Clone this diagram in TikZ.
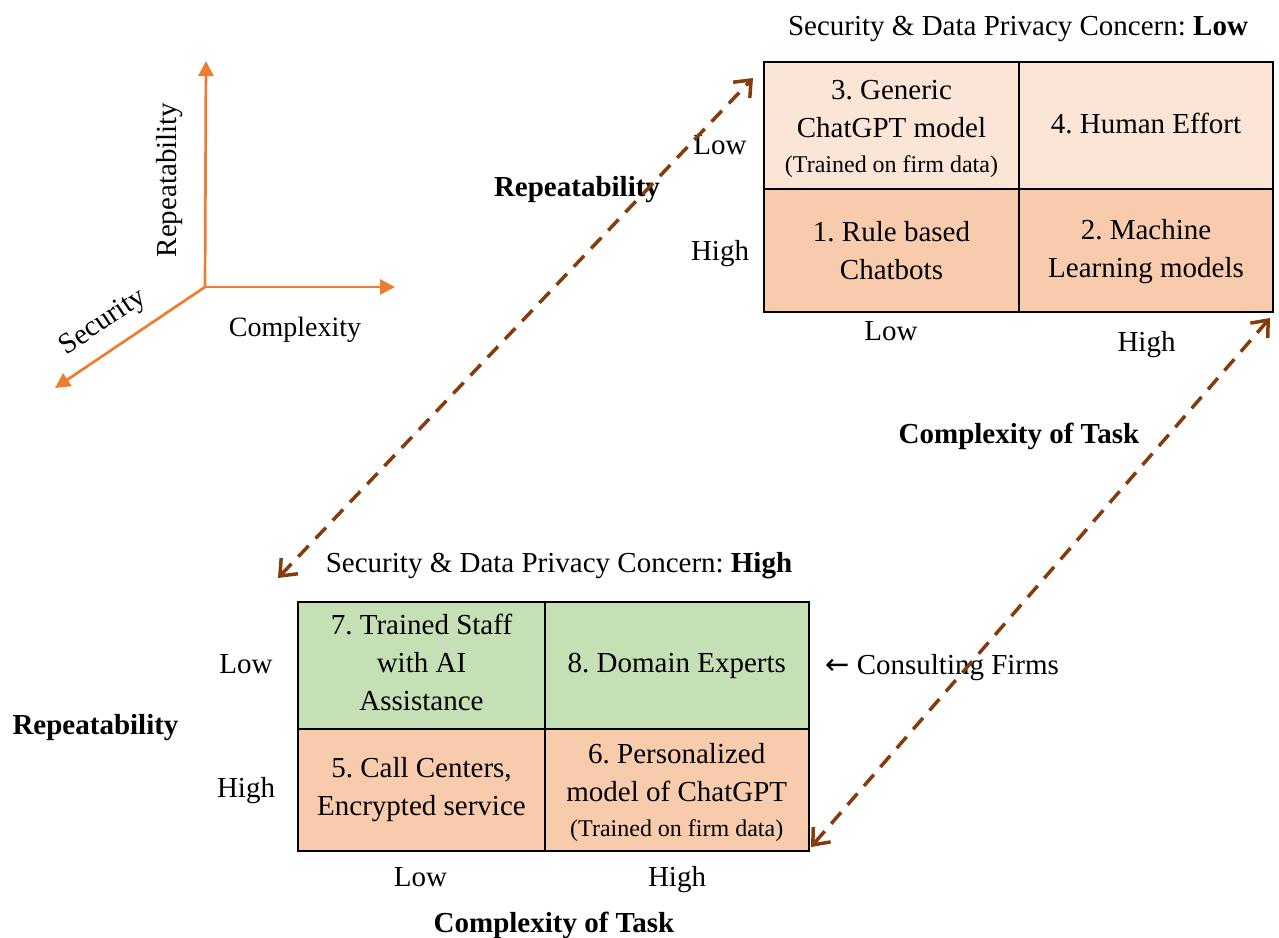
\documentclass[tikz,border=0pt]{standalone}
\usepackage{fontspec}
\setmainfont{Liberation Serif}
\newfontfamily\arrowfont{DejaVu Sans}
\usetikzlibrary{arrows.meta}
\definecolor{peachlight}{HTML}{FBE5D6}
\definecolor{peach}{HTML}{F8CBAD}
\definecolor{sage}{HTML}{C5E0B4}
\definecolor{axisorange}{HTML}{ED7D31}
\definecolor{darkbrown}{HTML}{843C0C}
\newcommand{\bigfont}{\fontsize{29pt}{38pt}\selectfont}
\newcommand{\smallnote}{\fontsize{24pt}{29pt}\selectfont}
\frenchspacing
\begin{document}
\begin{tikzpicture}[x=1pt,y=-1pt,
  cell/.style={draw=black, line width=2pt, inner sep=0pt, align=center, font=\bigfont},
  lbl/.style={inner sep=0pt, anchor=base, font=\bigfont},
  blbl/.style={inner sep=0pt, anchor=base, font=\bigfont\bfseries},
  axisline/.style={draw=axisorange, line width=2.7pt, -{Triangle[length=15pt,width=15pt]}},
  dashlink/.style={draw=darkbrown, line width=3.5pt, dash pattern=on 15pt off 10pt,
    {Straight Barb[length=14pt,width=23pt]}-{Straight Barb[length=14pt,width=23pt]}}
]
\useasboundingbox (0,0) rectangle (1279,937);

% ---------- 3D axes ----------
\coordinate (o) at (205,287);
\coordinate (ytip) at (206,61);
\coordinate (xtip) at (395,287);
\coordinate (ztip) at (55,388);
\draw[axisline] (o) -- (ytip);
\draw[axisline] (o) -- (xtip);
\draw[axisline] (o) -- (ztip);
\node[lbl, rotate=90] (axrep) at (176,180) {Repeatability};
\node[lbl, rotate=34] (axsec) at (107,328) {Security};
\node[lbl, font=\fontsize{28pt}{34pt}\selectfont] (axcom) at (295,336) {Complexity};

% ---------- Top grid ----------
\node[lbl] (ttitle) at (1018,35) {Security \& Data Privacy Concern: \textbf{Low}};
\node[cell, fill=peachlight, minimum width=255pt, minimum height=127pt] (c3) at (891.5,125.5)
  {\rule{0pt}{26pt}3. Generic\\ChatGPT model\\[-3pt]{\smallnote (Trained on firm data)}};
\node[cell, fill=peachlight, minimum width=254pt, minimum height=127pt] (c4) at (1146,125.5)
  {4. Human Effort\rule[-5pt]{0pt}{5pt}};
\node[cell, fill=peach, minimum width=255pt, minimum height=123pt] (c1) at (891.5,250.5)
  {1. Rule based\\Chatbots};
\node[cell, fill=peach, minimum width=254pt, minimum height=123pt] (c2) at (1146,250.5)
  {\rule{0pt}{23pt}2. Machine\\Learning models};
\node[lbl] (tlow) at (720,154) {Low};
\node[lbl] (thigh) at (720,260) {High};
\node[lbl] (tclow) at (891,340) {Low};
\node[lbl] (tchigh) at (1146.5,351) {High};
\node[blbl] (trep) at (577,196) {Repeatability};
\node[blbl] (tcom) at (1019,443) {Complexity of Task};

% ---------- Bottom grid ----------
\node[lbl] (btitle) at (559,572) {Security \& Data Privacy Concern: \textbf{High}};
\node[cell, fill=sage, minimum width=247pt, minimum height=127pt] (c7) at (421.5,665.5)
  {7. Trained Staff\\with AI\\Assistance\rule[-6pt]{0pt}{6pt}};
\node[cell, fill=sage, minimum width=263.5pt, minimum height=127pt] (c8) at (676.75,665.5)
  {8. Domain Experts};
\node[cell, fill=peach, minimum width=247pt, minimum height=122pt] (c5) at (421.5,790)
  {5. Call Centers,\\Encrypted service};
\node[cell, fill=peach, minimum width=263.5pt, minimum height=122pt] (c6) at (676.75,790)
  {\rule{0pt}{26pt}6. Personalized\\model of ChatGPT\\[-3pt]{\smallnote (Trained on firm data)}};
\node[lbl] (blow) at (246,673) {Low};
\node[lbl] (bhigh) at (246,797) {High};
\node[lbl] (bclow) at (420.5,886) {Low};
\node[lbl] (bchigh) at (677,886) {High};
\node[blbl] (brep) at (95.5,734) {Repeatability};
\node[blbl] (bcom) at (554,932) {Complexity of Task};
\node[lbl, anchor=base west] (consult) at (825,674) {{\arrowfont ←} Consulting Firms};

% ---------- dashed double arrows ----------
\coordinate (a1s) at (278,578);
\coordinate (a1e) at (753,78);
\coordinate (a2s) at (1270,318);
\coordinate (a2e) at (811,847);
\draw[dashlink] (a1s) -- (a1e);
\draw[dashlink] (a2s) -- (a2e);
\end{tikzpicture}
\end{document}
